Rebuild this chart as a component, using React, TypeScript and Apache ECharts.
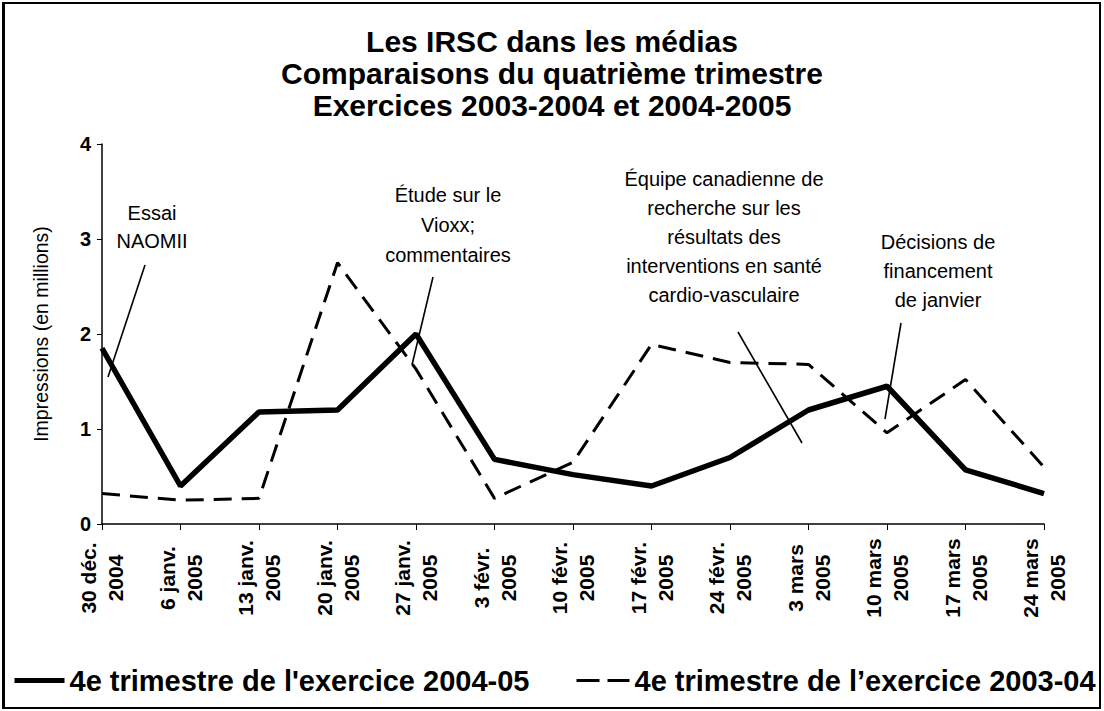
import React, { useEffect, useRef } from "react";
import * as echarts from "echarts";

const categories = [
  "30 déc.\n2004",
  "6 janv.\n2005",
  "13 janv.\n2005",
  "20 janv.\n2005",
  "27 janv.\n2005",
  "3 févr.\n2005",
  "10 févr.\n2005",
  "17 févr.\n2005",
  "24 févr.\n2005",
  "3 mars\n2005",
  "10 mars\n2005",
  "17 mars\n2005",
  "24 mars\n2005",
];

const series2004_05 = [1.85, 0.4, 1.18, 1.2, 2.0, 0.68, 0.52, 0.4, 0.7, 1.2, 1.45, 0.57, 0.32];
const series2003_04 = [0.32, 0.25, 0.27, 2.75, 1.63, 0.27, 0.65, 1.89, 1.7, 1.68, 0.96, 1.52, 0.6];

const seriesNames = [
  "4e trimestre de l'exercice 2004-05",
  "4e trimestre de l’exercice 2003-04",
];

const titleLines = [
  "Les IRSC dans les médias",
  "Comparaisons du quatrième trimestre",
  "Exercices 2003-2004 et 2004-2005",
];

const yAxisName = "Impressions (en millions)";

const annotations = [
  { text: "Essai\nNAOMII", cx: 152, top: 199, lh: 28, line: [145, 265, 108, 377] },
  { text: "Étude sur le\nVioxx;\ncommentaires", cx: 448, top: 180, lh: 30, line: [433, 277, 412, 365] },
  {
    text: "Équipe canadienne de\nrecherche sur les\nrésultats des\ninterventions en santé\ncardio-vasculaire",
    cx: 724,
    top: 164,
    lh: 29,
    line: [738, 332, 802, 443],
  },
  { text: "Décisions de\nfinancement\nde janvier", cx: 938, top: 227, lh: 29, line: [901, 323, 885, 419] },
];

const FONT = "'Liberation Sans', Arial, Helvetica, sans-serif";

export default function App() {
  const ref = useRef<HTMLDivElement>(null);

  useEffect(() => {
    if (!ref.current) return;
    const chart = echarts.init(ref.current, undefined, { renderer: "svg" });

    const graphics: any[] = [];
    annotations.forEach((a) => {
      graphics.push({
        type: "text",
        x: a.cx,
        y: a.top,
        style: {
          text: a.text,
          font: `20px ${FONT}`,
          fill: "#000",
          textAlign: "center",
          textVerticalAlign: "top",
          lineHeight: a.lh,
        },
        silent: true,
      });
      graphics.push({
        type: "line",
        shape: { x1: a.line[0], y1: a.line[1], x2: a.line[2], y2: a.line[3] },
        style: { stroke: "#000", lineWidth: 1.6 },
        silent: true,
      });
    });

    const legendText = {
      fontFamily: FONT,
      fontSize: 29,
      fontWeight: "bold",
      color: "#000",
    };

    chart.setOption({
      animation: false,
      backgroundColor: "#fff",
      title: {
        text: titleLines.join("\n"),
        left: "center",
        top: 20,
        textStyle: {
          fontFamily: FONT,
          fontSize: 30,
          fontWeight: "bold",
          color: "#000",
          lineHeight: 32,
        },
      },
      grid: {
        left: 102,
        right: 60,
        top: 144,
        bottom: 187,
        containLabel: false,
        outerBoundsMode: "none",
      },
      legend: [
        {
          left: 12,
          top: 666,
          padding: 0,
          itemWidth: 50,
          itemHeight: 14,
          itemStyle: { opacity: 0 },
          lineStyle: { width: 5, type: "solid", color: "#000" },
          textStyle: legendText,
          data: [seriesNames[0]],
        },
        {
          left: 575,
          top: 666,
          padding: 0,
          itemWidth: 53,
          itemHeight: 14,
          itemStyle: { opacity: 0 },
          lineStyle: { width: 3, type: [23, 8], color: "#000" },
          textStyle: legendText,
          data: [seriesNames[1]],
        },
      ],
      xAxis: {
        type: "category",
        data: categories,
        boundaryGap: false,
        axisLine: { show: true, lineStyle: { color: "#000", width: 1.5 } },
        axisTick: { show: true, length: 6, lineStyle: { color: "#000" } },
        splitLine: { show: false },
        axisLabel: {
          interval: 0,
          rotate: 90,
          margin: 17,
          formatter: (v: string) =>
            v
              .split("\n")
              .map((s) => `{a|${s}}`)
              .join("\n"),
          rich: {
            a: {
              fontFamily: FONT,
              fontSize: 21,
              fontWeight: "bold",
              color: "#000",
              width: 74,
              align: "center",
              lineHeight: 27,
            },
          },
        },
      },
      yAxis: {
        type: "value",
        min: 0,
        max: 4,
        interval: 1,
        name: yAxisName,
        nameLocation: "middle",
        nameGap: 51,
        nameRotate: 90,
        nameTextStyle: {
          fontFamily: FONT,
          fontSize: 19.5,
          color: "#000",
        },
        axisLine: { show: true, lineStyle: { color: "#000", width: 1.5 } },
        axisTick: { show: true, length: 5, lineStyle: { color: "#000" } },
        splitLine: { show: false },
        axisLabel: {
          margin: 11,
          fontFamily: FONT,
          fontSize: 20,
          fontWeight: "bold",
          color: "#000",
        },
      },
      series: [
        {
          name: seriesNames[0],
          type: "line",
          data: series2004_05,
          symbol: "none",
          lineStyle: { color: "#000", width: 5.5, type: "solid" },
          itemStyle: { color: "#000" },
          z: 3,
        },
        {
          name: seriesNames[1],
          type: "line",
          data: series2003_04,
          symbol: "none",
          lineStyle: { color: "#000", width: 3, type: [18, 10] },
          itemStyle: { color: "#000" },
          z: 2,
        },
      ],
      graphic: graphics,
    });

    return () => chart.dispose();
  }, []);

  return (
    <div style={{ position: "absolute", left: 0, top: 0, width: 1104, height: 711 }}>
      <div ref={ref} style={{ position: "absolute", left: 0, top: 0, width: 1104, height: 711 }} />
      <div
        style={{
          position: "absolute",
          left: 2,
          top: 2,
          width: 1099,
          height: 707,
          boxSizing: "border-box",
          borderTop: "2px solid #000",
          borderRight: "2px solid #000",
          borderBottom: "2px solid #000",
          borderLeft: "3px solid #000",
          pointerEvents: "none",
        }}
      />
    </div>
  );
}
